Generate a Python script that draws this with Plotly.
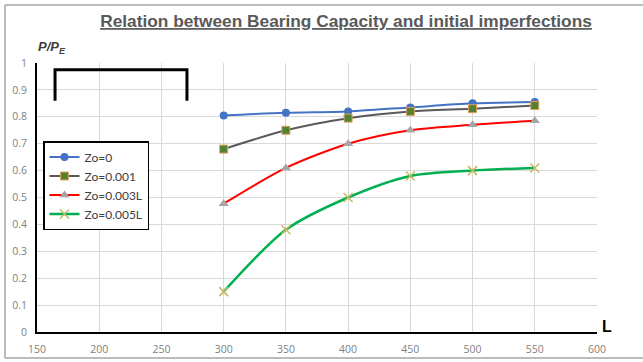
import plotly.graph_objects as go

L_vals = [300, 350, 400, 450, 500, 550]
zo_0 = [0.805, 0.815, 0.82, 0.835, 0.85, 0.855]
zo_001 = [0.68, 0.75, 0.795, 0.82, 0.83, 0.842]
zo_003L = [0.477, 0.61, 0.70, 0.75, 0.77, 0.785]
zo_005L = [0.15, 0.38, 0.50, 0.58, 0.60, 0.61]
series_names = ["Zo=0", "Zo=0.001", "Zo=0.003L", "Zo=0.005L"]

bracket_x = [164.5, 270.5]
bracket_y = [0.86, 0.975]

W, H = 643, 362
ml, mr, mt, mb = 37, 46, 63, 30
pw = W - ml - mr
ph = H - mt - mb

def px_x(p):
    return (p - ml) / pw

def px_y(p):
    return (H - mb - p) / ph

fig = go.Figure()
fig.add_trace(go.Scatter(x=L_vals, y=zo_0, name=series_names[0], mode="lines+markers",
                         line=dict(color="#4472C4", width=2, shape="spline", smoothing=0.8),
                         marker=dict(symbol="circle", size=8, color="#4472C4")))
fig.add_trace(go.Scatter(x=L_vals, y=zo_001, name=series_names[1], mode="lines+markers",
                         line=dict(color="#595959", width=2, shape="spline", smoothing=0.8),
                         marker=dict(symbol="square", size=8, color="#548235",
                                     line=dict(color="#E0A060", width=1))))
fig.add_trace(go.Scatter(x=L_vals, y=zo_003L, name=series_names[2], mode="lines+markers",
                         line=dict(color="#FF0000", width=2, shape="spline", smoothing=0.8),
                         marker=dict(symbol="triangle-up", size=9, color="#A5A5A5")))
fig.add_trace(go.Scatter(x=L_vals, y=zo_005L, name=series_names[3], mode="lines+markers",
                         line=dict(color="#00B050", width=2.5, shape="spline", smoothing=0.8),
                         marker=dict(symbol="x-thin", size=9, color="#C8B860",
                                     line=dict(color="#C8B860", width=1.5))))

# bracket decoration
fig.add_shape(type="path",
              path=f"M {bracket_x[0]},{bracket_y[0]} L {bracket_x[0]},{bracket_y[1]} "
                   f"L {bracket_x[1]},{bracket_y[1]} L {bracket_x[1]},{bracket_y[0]}",
              xref="x", yref="y", line=dict(color="black", width=3))

# outer frame (top, left, bottom)
frame_col = "#A6A6A6"
fig.add_shape(type="line", xref="paper", yref="paper", x0=px_x(5), x1=px_x(W), y0=px_y(5), y1=px_y(5),
              line=dict(color=frame_col, width=1.5))
fig.add_shape(type="line", xref="paper", yref="paper", x0=px_x(5), x1=px_x(W), y0=px_y(358), y1=px_y(358),
              line=dict(color=frame_col, width=1.5))
fig.add_shape(type="line", xref="paper", yref="paper", x0=px_x(5), x1=px_x(5), y0=px_y(5), y1=px_y(358),
              line=dict(color=frame_col, width=1.5))

fig.add_annotation(text="<b><i>P/P<sub>E</sub></i></b>", xref="paper", yref="paper",
                   x=px_x(36), y=px_y(48), xanchor="left", yanchor="middle", showarrow=False,
                   font=dict(family="Liberation Sans", size=13, color="#404040"))
fig.add_annotation(text="<b>L</b>", xref="paper", yref="paper",
                   x=px_x(607), y=px_y(326), xanchor="center", yanchor="middle", showarrow=False,
                   font=dict(family="Liberation Sans", size=16, color="black"))

fig.update_layout(
    width=W, height=H,
    margin=dict(l=ml, r=mr, t=mt, b=mb),
    paper_bgcolor="white", plot_bgcolor="white",
    title=dict(text="<b><u>Relation between Bearing Capacity and initial imperfections</u></b>",
               x=346 / W, xanchor="center", xref="container",
               y=1 - 21 / H, yanchor="middle", yref="container",
               font=dict(family="Liberation Sans", size=17.3, color="#595959")),
    showlegend=True,
    legend=dict(x=px_x(43), y=px_y(141), xanchor="left", yanchor="top",
                bordercolor="black", borderwidth=1.5, bgcolor="white",
                font=dict(family="Lato", size=12, color="#404040"),
                tracegroupgap=0, itemwidth=30),
    xaxis=dict(range=[150, 600], dtick=50, tick0=150, showgrid=True, gridcolor="#D9D9D9",
               showline=True, linecolor="black", linewidth=2, zeroline=False,
               ticks="", ticklabelstandoff=6, automargin=False,
               tickfont=dict(family="Open Sans", size=10.5, color="#7F7F7F")),
    yaxis=dict(range=[0, 1], dtick=0.1, showgrid=True, gridcolor="#D9D9D9",
               showline=True, linecolor="black", linewidth=2, zeroline=False,
               ticks="", ticklabelstandoff=6, automargin=False,
               tickfont=dict(family="Open Sans", size=10.5, color="#7F7F7F")),
)

fig.write_html("out.html")
